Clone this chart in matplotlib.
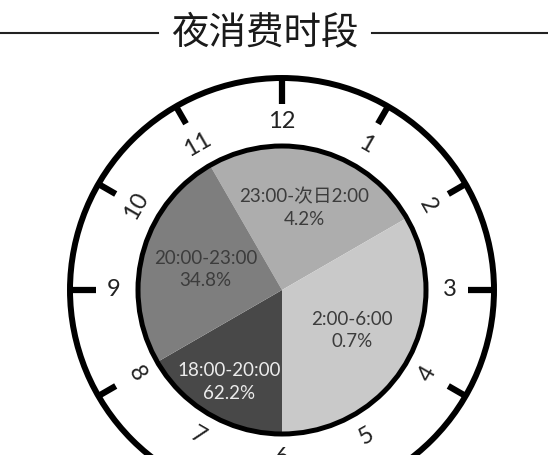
import numpy as np
import matplotlib.pyplot as plt
from matplotlib.lines import Line2D
from matplotlib.patches import Circle


# wedges clockwise from 11 o'clock
PERIODS = ["23:00-次日2:00", "2:00-6:00", "18:00-20:00", "20:00-23:00"]
HOURS = [3, 4, 2, 3]
SHARES = [4.2, 0.7, 62.2, 34.8]
CLOCK_NUMBERS = list(range(1, 13))

WEDGE_COLORS = ["#adadad", "#c9c9c9", "#484848", "#7e7e7e"]
TEXT_COLORS = ["#3c3c3c", "#3c3c3c", "#ececec", "#3c3c3c"]
LABEL_RADIUS = [0.59, 0.56, 0.74, 0.55]

FONT = ["Lato", "Noto Sans CJK SC", "DejaVu Sans"]

PIE_R = 144
RING_R = 212
NUM_R = 168


def clock_xy(theta_deg, r):
    t = np.radians(theta_deg)
    return r * np.sin(t), r * np.cos(t)


def main():
    fig = plt.figure(figsize=(5.48, 4.55), dpi=100)
    ax = fig.add_axes([0, 0, 1, 1])

    ax.pie(
        HOURS,
        radius=PIE_R,
        startangle=120,
        counterclock=False,
        colors=WEDGE_COLORS,
        wedgeprops=dict(linewidth=0),
        frame=True,
    )
    ax.set_xlim(-282, 266)
    ax.set_ylim(-165, 290)
    ax.set_aspect("equal")
    ax.axis("off")

    ax.add_patch(Circle((0, 0), PIE_R, fill=False, lw=3.6, ec="black"))
    ax.add_patch(Circle((0, 0), RING_R, fill=False, lw=4.3, ec="black"))

    # wedge labels
    start = 330
    for period, hrs, share, col, rf in zip(PERIODS, HOURS, SHARES,
                                           TEXT_COLORS, LABEL_RADIUS):
        mid = start + hrs * 15
        x, y = clock_xy(mid, rf * PIE_R)
        ax.text(x, y, f"{period}\n{share}%", ha="center", va="center",
                fontsize=13.5, color=col, family=FONT, linespacing=1.4)
        start += hrs * 30

    # ticks and hour numbers
    for h in CLOCK_NUMBERS:
        theta = 30 * h
        inner = 186 if h % 3 == 0 else 192
        x0, y0 = clock_xy(theta, inner)
        x1, y1 = clock_xy(theta, RING_R)
        ax.plot([x0, x1], [y0, y1], color="black", lw=4.5,
                solid_capstyle="butt")
        if h % 3 == 0:
            rot = 0
        elif 3 < h < 9:
            rot = 180 - theta
        else:
            rot = -theta
        tx, ty = clock_xy(theta, NUM_R)
        ax.text(tx, ty, str(h), ha="center", va="center", fontsize=17,
                rotation=rot, rotation_mode="anchor", family=FONT,
                color="#222222")

    # title with side rules
    ty = 1 - 33 / 455
    fig.text(0.484, ty, "夜消费时段", ha="center", va="center", fontsize=27,
             family=["Noto Sans CJK SC", "DejaVu Sans"], fontweight="medium",
             color="#1a1a1a")
    fig.add_artist(Line2D([0, 158 / 548], [ty, ty], color="#222222", lw=1.5))
    fig.add_artist(Line2D([372 / 548, 1], [ty, ty], color="#222222", lw=1.5))

    fig.savefig("out.png", dpi=100)
    plt.close(fig)


if __name__ == "__main__":
    main()
